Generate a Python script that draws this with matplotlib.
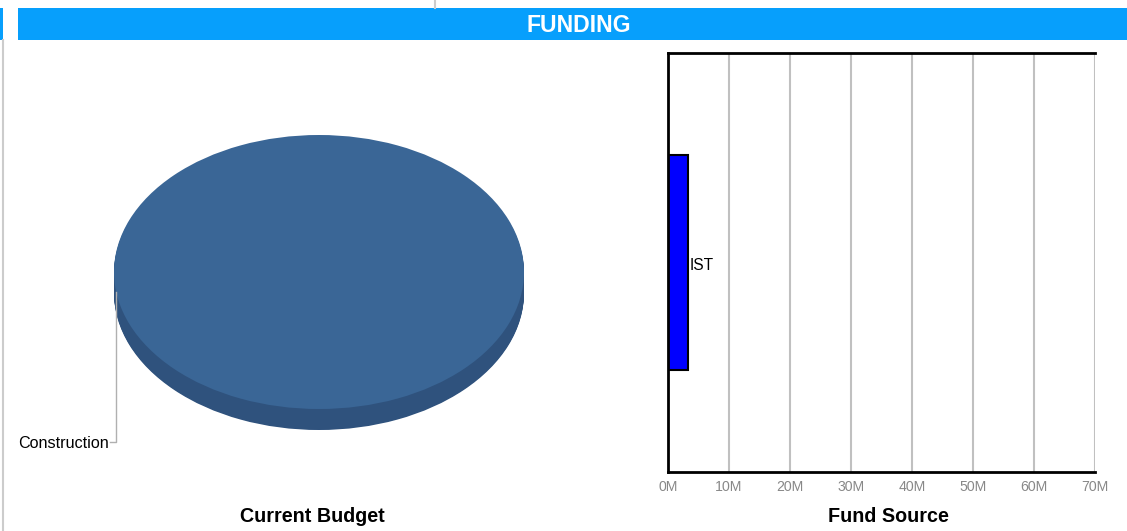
import numpy as np
import matplotlib
matplotlib.use("Agg")
import matplotlib.pyplot as plt
from matplotlib.patches import Rectangle

plt.rcParams['font.family'] = ['Liberation Sans', 'DejaVu Sans']

# data
budget_labels = ["Construction"]
budget_values = [100]
fund_sources = ["IST"]
fund_amounts = [3.3e6]
x_ticks = [0, 10e6, 20e6, 30e6, 40e6, 50e6, 60e6, 70e6]
x_tick_labels = ["0M", "10M", "20M", "30M", "40M", "50M", "60M", "70M"]

W, H = 1127, 531
fig = plt.figure(figsize=(W / 100, H / 100), dpi=100)

# background / header in pixel coords
bg = fig.add_axes([0, 0, 1, 1])
bg.set_xlim(0, W)
bg.set_ylim(H, 0)
bg.axis("off")
bg.add_patch(Rectangle((18, 8), W - 18, 32, color="#079ffc", lw=0))
bg.add_patch(Rectangle((0, 8), 2.5, 32, color="#079ffc", lw=0))
bg.plot([2.5, 2.5], [40, H], color="#cccccc", lw=1.5)
bg.plot([434.5, 434.5], [0, 8], color="#cccccc", lw=1.5)
bg.text(579, 26, "FUNDING", color="white", fontsize=16.6, fontweight="bold",
        ha="center", va="center")
bg.text(312, 516, "Current Budget", fontsize=14.2, fontweight="bold",
        ha="center", va="center")
bg.text(888, 516, "Fund Source", fontsize=14.2, fontweight="bold",
        ha="center", va="center")

# pseudo-3D pie
depth = 21 / 137
pie_ax = fig.add_axes([114 / W, (H - 430) / H, 410 / W, 295 / H])
for off in np.linspace(depth, 0.01, 25):
    pie_ax.pie(budget_values, colors=["#2f527d"], center=(0, -off),
               wedgeprops=dict(linewidth=0))
pie_ax.pie(budget_values, colors=["#3a6696"], wedgeprops=dict(linewidth=0))
pie_ax.set_aspect("auto")
pie_ax.set_xlim(-1, 1)
pie_ax.set_ylim(-1 - depth, 1)
pie_ax.axis("off")

# leader line + label
lx, ly_top, ly_bot, lx_end = -0.99, -0.146, -1.241, -1.02
pie_ax.plot([lx, lx, lx_end], [ly_top, ly_bot, ly_bot], color="#b0b0b0",
            lw=1, clip_on=False)
pie_ax.text(lx_end - 0.003, ly_bot - 0.012, budget_labels[0], fontsize=11.6,
            ha="right", va="center", clip_on=False)

# bar chart
ax = fig.add_axes([668 / W, (H - 472) / H, 427 / W, 419 / H])
y = np.arange(len(fund_sources))
ax.barh(y, fund_amounts, height=0.515, color="#0000ff", edgecolor="black",
        lw=1.5, zorder=3)
for yi, v, name in zip(y, fund_amounts, fund_sources):
    ax.text(v + 0.3e6, yi - 0.006, name, fontsize=11.2, ha="left",
            va="center", zorder=4)
ax.set_xlim(0, 70e6)
ax.set_ylim(-0.5, 0.5)
ax.set_xticks(x_ticks)
ax.set_xticklabels(x_tick_labels)
ax.set_yticks([])
ax.grid(axis="x", color="#c0c0c0", lw=1.5, zorder=0)
ax.tick_params(axis="x", length=0, pad=6, labelsize=10.2, labelcolor="#888888")
for s in ["left", "top", "bottom"]:
    ax.spines[s].set_linewidth(2)
    ax.spines[s].set_color("black")
    ax.spines[s].set_zorder(5)
ax.spines["right"].set_visible(False)

fig.savefig("out.png", dpi=100)
